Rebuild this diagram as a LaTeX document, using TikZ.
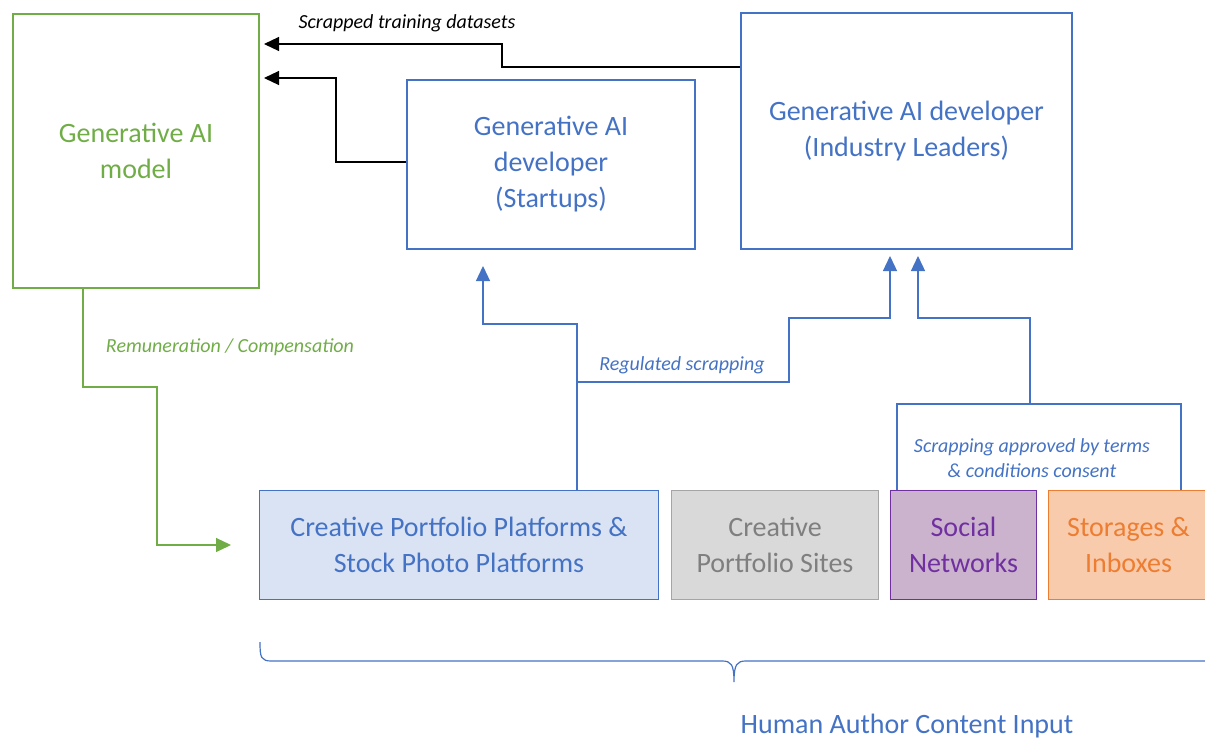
\documentclass[tikz,border=0pt]{standalone}
\usepackage{fontspec}
\setmainfont{Carlito}
\usetikzlibrary{arrows.meta}
\definecolor{cblue}{HTML}{4472C4}
\definecolor{cgreen}{HTML}{70AD47}
\definecolor{lblue}{HTML}{DAE3F3}
\definecolor{lgray}{HTML}{D9D9D9}
\definecolor{mgray}{HTML}{A5A5A5}
\definecolor{dgray}{HTML}{7F7F7F}
\definecolor{cpurple}{HTML}{7030A0}
\definecolor{lpurple}{HTML}{CBB3CE}
\definecolor{corange}{HTML}{ED7D31}
\definecolor{lorange}{HTML}{F8CBAD}
\tikzset{
  bigtxt/.style={font=\fontsize{28}{36}\selectfont, align=center},
  topbox/.style={draw, line width=2pt, anchor=north west, inner sep=0pt, bigtxt},
  botbox/.style={draw, line width=1pt, anchor=north west, inner sep=0pt, bigtxt},
  lbl/.style={font=\fontsize{20}{25}\selectfont\itshape, align=center, inner sep=0pt},
  tip/.style={-{Triangle[length=15pt,width=14pt]}},
  blk/.style={black, line width=1.1pt, tip},
  bln/.style={cblue, line width=1.3pt},
  grn/.style={cgreen, line width=1.3pt, tip},
}
\begin{document}
\begin{tikzpicture}[x=1pt,y=-1pt]
\useasboundingbox (0,0) rectangle (1205,740);
\clip (0,0) rectangle (1205,740);

% main boxes
\node[topbox, cgreen, minimum width=246pt, minimum height=274pt] (model) at (12,13) {Generative AI\\model};
\node[topbox, cblue, minimum width=288pt, minimum height=169pt] (start) at (406,79) {Generative AI\\developer\\(Startups)};
\node[topbox, cblue, minimum width=331pt, minimum height=236pt] (ind) at (740,12) {Generative AI developer\\(Industry Leaders)};

% bottom boxes
\node[botbox, draw=cblue, fill=lblue, text=cblue, minimum width=399pt, minimum height=109pt] (box1) at (259,490) {Creative Portfolio Platforms \&\\Stock Photo Platforms};
\node[botbox, draw=mgray, fill=lgray, text=dgray, minimum width=207pt, minimum height=109pt] (box2) at (671,490) {Creative\\Portfolio Sites};
\node[botbox, draw=cpurple, fill=lpurple, text=cpurple, minimum width=146pt, minimum height=109pt] (soc) at (890,490) {Social\\Networks};
\node[botbox, draw=corange, fill=lorange, text=corange, minimum width=160pt, minimum height=109pt] (sto) at (1048,490) {Storages \&\\Inboxes};

% black arrows
\draw[blk, shorten >=4pt] (ind.west |- 0,67) -- (502,67) -- (502,44) -- (model.east |- 0,44);
\draw[blk, shorten >=4pt] (start.west |- 0,162) -- (336,162) -- (336,78) -- (model.east |- 0,78);
\node[lbl, black] (ltrain) at (407,23) {Scrapped training datasets};

% blue connectors
\coordinate (j1) at (577,382);
\coordinate (j2) at (1030,404);
\draw[bln, tip, shorten >=16pt] (box1.north -| 577,0) -- (577,324) -- (483,324) -- (start.south -| 483,0);
\draw[bln, tip, shorten >=6pt] (j1) -- (789,382) -- (789,318) -- (890,318) -- (ind.south -| 890,0);
\draw[bln] (soc.north -| 897,0) -- (897,404) -- (1181,404) -- (sto.north -| 1181,0);
\draw[bln, tip, shorten >=6pt] (j2) -- (1030,318) -- (918,318) -- (ind.south -| 918,0);
\node[lbl, cblue] (lreg) at (682,365) {Regulated scrapping};
\node[lbl, cblue] (lterms) at (1032,458) {Scrapping approved by terms\\\& conditions consent};

% green connector
\draw[grn, shorten >=28pt] (model.south -| 83,0) -- (83,387) -- (157,387) -- (157,545) -- (box1.west |- 0,545);
\node[lbl, cgreen] (lrem) at (230,347) {Remuneration / Compensation};

% brace
\draw[cblue, line width=1.2pt] (260,642) .. controls (260,658) and (261,661) .. (272,661) -- (722,661)
  .. controls (731,661) and (734,664) .. (734,682)
  .. controls (734,664) and (737,661) .. (746,661) -- (1210,661);
\node[cblue, font=\fontsize{28}{30}\selectfont, inner sep=0pt] (human) at (907,726) {Human Author Content Input};
\end{tikzpicture}
\end{document}
